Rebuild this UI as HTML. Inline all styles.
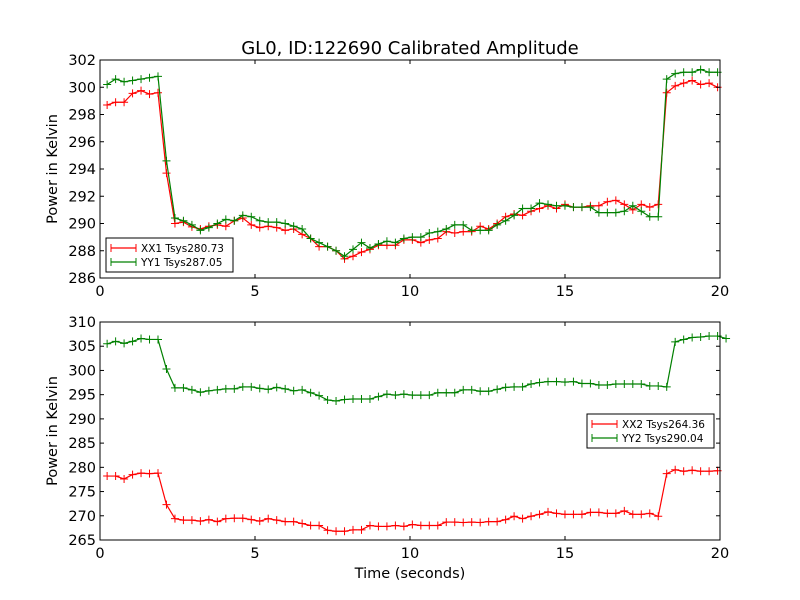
<!DOCTYPE html>
<html><head><meta charset="utf-8"><style>
body{margin:0;background:#fff}
svg{display:block;font-family:"DejaVu Sans","Liberation Sans",sans-serif}
</style></head><body>
<svg id="chart" width="800" height="600" viewBox="0 0 800 600"></svg>
<script>
const t0 = 0.23, dtStep = 0.2735;
const xTicks = [0, 5, 10, 15, 20];
const topYTicks = [286, 288, 290, 292, 294, 296, 298, 300, 302];
const botYTicks = [265, 270, 275, 280, 285, 290, 295, 300, 305, 310];
const xx1 = [298.7,298.9,298.9,299.55,299.75,299.5,299.6,293.7,
290.0,290.1,289.75,289.6,289.8,289.9,289.8,290.2,290.4,289.9,289.7,289.8,289.7,289.5,289.6,289.2,288.9,288.3,288.3,288.0,287.4,287.6,287.9,288.1,288.4,288.4,288.4,288.8,288.8,
288.6,288.8,288.9,289.4,289.3,289.4,289.4,289.8,289.6,290.0,290.5,290.7,290.6,290.9,291.1,291.3,291.1,291.4,291.2,291.2,291.3,291.3,291.6,291.7,291.4,291.0,291.4,291.2,291.4,
299.6,300.1,300.3,300.5,300.2,300.3,300.0];
const yy1 = [300.2,300.6,300.4,300.5,300.6,300.7,300.8,294.6,
290.4,290.2,289.9,289.5,289.7,290.0,290.3,290.2,290.6,290.5,290.2,290.1,290.1,290.0,289.8,289.6,288.9,288.6,288.3,288.0,287.6,288.1,288.6,288.2,288.5,288.7,288.6,288.9,289.0,
289.0,289.3,289.4,289.6,289.9,289.9,289.5,289.5,289.5,289.9,290.2,290.6,291.1,291.1,291.5,291.4,291.3,291.3,291.2,291.2,291.2,290.8,290.8,290.8,290.9,291.3,290.9,290.5,290.5,
300.6,301.0,301.1,301.1,301.3,301.1,301.1];
const xx2 = [278.2,278.2,277.6,278.5,278.8,278.7,278.8,272.3,
269.4,269.1,269.1,268.9,269.2,268.8,269.4,269.5,269.5,269.2,268.9,269.4,269.1,268.8,268.8,268.4,268.0,268.0,267.0,266.8,266.8,267.1,267.1,268.0,267.8,267.8,268.0,267.8,268.2,
268.0,268.0,268.0,268.7,268.7,268.6,268.7,268.6,268.8,268.8,269.2,269.9,269.4,269.9,270.3,270.8,270.5,270.3,270.3,270.3,270.7,270.7,270.5,270.5,271.0,270.3,270.3,270.5,269.9,
278.7,279.5,279.2,279.4,279.2,279.2,279.3];
const yy2 = [305.5,306.0,305.6,306.0,306.6,306.4,306.4,300.3,
296.4,296.4,296.0,295.5,295.8,296.0,296.2,296.2,296.6,296.6,296.3,296.1,296.5,296.2,295.8,296.0,295.4,294.8,293.9,293.7,294.0,294.1,294.1,294.1,294.6,295.1,294.9,295.1,294.9,
294.9,294.9,295.4,295.4,295.4,296.0,296.0,295.7,295.7,296.1,296.5,296.6,296.6,297.2,297.5,297.7,297.7,297.6,297.7,297.3,297.3,297.0,297.0,297.2,297.2,297.2,297.2,296.8,296.8,296.6,
305.9,306.4,306.8,306.9,307.1,307.1,306.6];

const NS = "http://www.w3.org/2000/svg";
const svg = document.getElementById('chart');
function mk(tag, attrs, parent){const e=document.createElementNS(NS,tag);for(const k in attrs)e.setAttribute(k,attrs[k]);(parent||svg).appendChild(e);return e;}

const title = mk('text',{x:410,y:54,'text-anchor':'middle','font-size':18});
title.textContent = 'GL0, ID:122690 Calibrated Amplitude';



function panel(name, top, bottom, ymin, ymax, yTicks, series, legend, showXLabel){
  const L=100,R=720;
  const xs = v => L + (v-0)/(20-0)*(R-L);
  const ys = v => bottom - (v-ymin)/(ymax-ymin)*(bottom-top);
  const g = mk('g',{});
  
  
  mk('rect',{x:L,y:top,width:R-L,height:bottom-top,fill:'#fff',stroke:'none'},g);
  for(const s of series){
    const pts = s.vals.map((v,i)=>[xs(t0+i*dtStep), ys(v)]);
    const line = mk('polyline',{points:pts.map(p=>p.join(',')).join(' '),fill:'none',stroke:s.color,'stroke-width':1.2},g);
    
    
    let d='';
    for(const p of pts){d+=`M${p[0]-4},${p[1]}h8M${p[0]},${p[1]-4}v8`;}
    const m = mk('path',{d:d,stroke:s.color,'stroke-width':1,fill:'none'},g);
    
    
  }
  for(const v of xTicks){
    const x=xs(v);
    mk('line',{x1:x,y1:bottom,x2:x,y2:bottom-4,stroke:'#000'},g);
    mk('line',{x1:x,y1:top,x2:x,y2:top+4,stroke:'#000'},g);
    const t = mk('text',{x:x,y:bottom+18,'text-anchor':'middle','font-size':14.5},g);
    t.textContent = v;
    
    
  }
  for(const v of yTicks){
    const y=ys(v);
    mk('line',{x1:L,y1:y,x2:L+4,y2:y,stroke:'#000'},g);
    mk('line',{x1:R,y1:y,x2:R-4,y2:y,stroke:'#000'},g);
    const t = mk('text',{x:L-4,y:y+5,'text-anchor':'end','font-size':14.5},g);
    t.textContent = v;
    
    
  }
  mk('rect',{x:L,y:top,width:R-L,height:bottom-top,fill:'none',stroke:'#000','stroke-width':1},g);
  const yl = mk('text',{x:0,y:0,'text-anchor':'middle','font-size':14.5,transform:`translate(57,${(top+bottom)/2}) rotate(-90)`},g);
  yl.textContent='Power in Kelvin';
  
  
  if(showXLabel){
    const xl = mk('text',{x:410,y:578,'text-anchor':'middle','font-size':14.5},g);
    xl.textContent='Time (seconds)';
    
    
  }
  const lg = mk('g',{},g);
  
  
  mk('rect',{x:legend.x,y:legend.y,width:legend.w,height:34,fill:'#fff',stroke:'#000','stroke-width':1},lg);
  series.forEach((s,i)=>{
    const yy = legend.y+10+i*14;
    mk('line',{x1:legend.x+5,y1:yy,x2:legend.x+30,y2:yy,stroke:s.color,'stroke-width':1.2},lg);
    mk('path',{d:`M${legend.x+5},${yy-4}v8M${legend.x+30},${yy-4}v8`,stroke:s.color},lg);
    const t = mk('text',{x:legend.x+35,y:yy+4,'font-size':10.5},lg);
    t.textContent = s.label;
    
    
  });
}
panel('top-panel',60,278,286,302,topYTicks,
  [{id:'xx1',vals:xx1,color:'#ff0000',label:'XX1 Tsys280.73'},{id:'yy1',vals:yy1,color:'#008000',label:'YY1 Tsys287.05'}],
  {x:106,y:238,w:127},false);
panel('bottom-panel',322,540,265,310,botYTicks,
  [{id:'xx2',vals:xx2,color:'#ff0000',label:'XX2 Tsys264.36'},{id:'yy2',vals:yy2,color:'#008000',label:'YY2 Tsys290.04'}],
  {x:587,y:414,w:127},true);
</script>
</body></html>
